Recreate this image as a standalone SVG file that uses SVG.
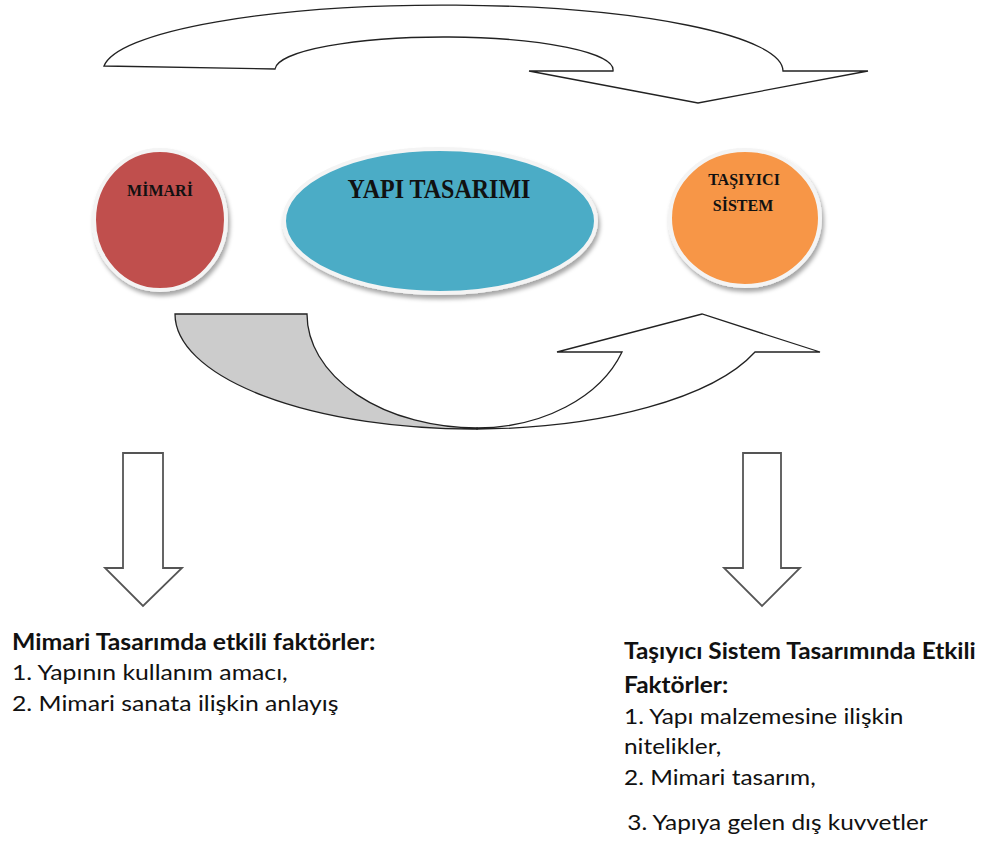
<svg xmlns="http://www.w3.org/2000/svg" width="987" height="841" viewBox="0 0 987 841">
<defs>
<filter id="sh" x="-20%" y="-20%" width="140%" height="140%">
<feDropShadow dx="2" dy="4" stdDeviation="2" flood-color="#000" flood-opacity="0.35"/>
</filter>
</defs>
<style>
.blk{fill:#fff;stroke:#222;stroke-width:1.3;stroke-linejoin:miter}
.gry{fill:#cccccc;stroke:#222;stroke-width:1.3}
.dn{fill:#fff;stroke:#555;stroke-width:1.8}
.node{stroke:#f4f4f4;stroke-width:4;filter:url(#sh)}
.nt{font-family:"Liberation Serif","Times New Roman",serif;font-weight:bold;fill:#111;text-anchor:middle}
.t{font-family:Lato,"Liberation Sans",sans-serif;font-size:22px;fill:#111}
.b{font-weight:bold}
</style>
<rect width="987" height="841" fill="#fff"/>
<g id="connectors">
<path id="top-arrow" class="blk" d="M104,66 L275,69 A169,33 0 0 1 613,71 L529,71 L698,103 L868,71 L783,71 A340,66 0 0 0 104,66 Z"/>
<path id="bottom-arrow-head" class="blk" d="M477,429 A298,115 0 0 0 755,352 L820,352 L702,314 L557,352 L622,352 A154,114 0 0 1 477,428 Z"/>
<path id="bottom-arrow-tail" class="gry" d="M175,314 L307,314 A170,114 0 0 0 477,428 L477,429 A298,115 0 0 1 175,314 Z"/>
<path id="down-left" class="dn" d="M123,453 L163,453 L163,568 L182,568 L143,606 L105,568 L123,568 Z"/>
<path id="down-right" class="dn" d="M743,453 L781,453 L781,568 L800,568 L762,606 L724,568 L743,568 Z"/>
</g>
<g id="node-mimari">
<ellipse class="node" cx="160" cy="220" rx="66" ry="70" fill="#C0504D"/>
<text class="nt" font-size="16" x="160" y="196">MİMARİ</text>
</g>
<g id="node-yapi">
<ellipse class="node" cx="440" cy="221" rx="156" ry="72" fill="#4BACC6"/>
<text class="nt" font-size="24" transform="translate(439,198) scale(1,1.12)">YAPI TASARIMI</text>
</g>
<g id="node-tasiyici">
<ellipse class="node" cx="745" cy="218" rx="75" ry="68" fill="#F79646"/>
<text class="nt" font-size="16" x="744" y="185">TAŞIYICI</text>
<text class="nt" font-size="16" x="743" y="211">SİSTEM</text>
</g>
<g id="text-left" transform="translate(12,0) scale(1.127,1)">
<text class="t b" x="0" y="650">Mimari Tasarımda etkili faktörler:</text>
<text class="t" x="0" y="680">1. Yapının kullanım amacı,</text>
<text class="t" x="0" y="711">2. Mimari sanata ilişkin anlayış</text>
</g>
<g id="text-right" transform="translate(624,0) scale(1.11,1)">
<text class="t b" x="0" y="659">Taşıyıcı Sistem Tasarımında Etkili</text>
<text class="t b" x="0" y="693">Faktörler:</text>
<text class="t" x="0" y="724">1. Yapı malzemesine ilişkin</text>
<text class="t" x="0" y="754">nitelikler,</text>
<text class="t" x="0" y="785">2. Mimari tasarım,</text>
<text class="t" x="3" y="830">3. Yapıya gelen dış kuvvetler</text>
</g>
</svg>
